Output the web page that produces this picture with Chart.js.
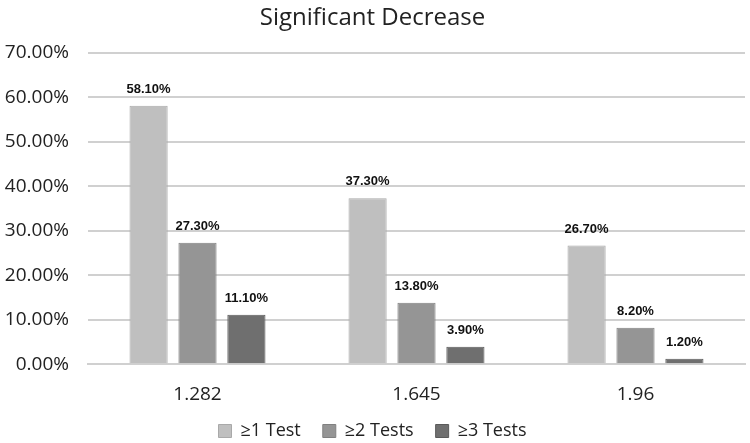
<!DOCTYPE html>
<html>
<head>
<meta charset="utf-8">
<script src="https://cdn.jsdelivr.net/npm/chart.js@4/dist/chart.umd.min.js"></script>
<style>
    body { margin: 0; background: #fff; }
    #wrap { width: 750px; height: 443px; }
</style>
</head>
<body>
<div id="wrap"><canvas id="chart"></canvas></div>
<script>
const categories = ["1.282", "1.645", "1.96"];
const seriesNames = ["\u22651 Test", "\u22652 Tests", "\u22653 Tests"];
const oneTest = [58.1, 37.3, 26.7];
const twoTests = [27.3, 13.8, 8.2];
const threeTests = [11.1, 3.9, 1.2];
const yTicks = [0, 10, 20, 30, 40, 50, 60, 70];

const fills = ["#bfbfbf", "#959595", "#6f6f6f"];
const borders = ["#a9a9a9", "#808080", "#5a5a5a"];

// labels above each bar, placed from the bar element itself
const barLabels = {
    id: "barLabels",
    afterDatasetsDraw(chart) {
        const ctx = chart.ctx;
        ctx.save();
        ctx.font = "bold 13px 'Liberation Sans', Arial, sans-serif";
        ctx.fillStyle = "#111";
        ctx.textAlign = "center";
        ctx.textBaseline = "bottom";
        chart.data.datasets.forEach((ds, i) => {
            chart.getDatasetMeta(i).data.forEach((bar, j) => {
                ctx.fillText(ds.data[j].toFixed(2) + "%", bar.x, bar.y - 10);
            });
        });
        ctx.restore();
    }
};

const seriesData = [oneTest, twoTests, threeTests];

new Chart(document.getElementById("chart"), {
    type: "bar",
    data: {
        labels: categories,
        datasets: seriesData.map((d, i) => ({
            label: seriesNames[i],
            data: d,
            backgroundColor: fills[i],
            borderColor: borders[i],
            borderWidth: 1,
            categoryPercentage: 0.67,
            barPercentage: 0.78
        }))
    },
    options: {
        responsive: true,
        maintainAspectRatio: false,
        animation: false,
        layout: { padding: { left: 0, right: 5, top: 0, bottom: -7 } },
        scales: {
            x: {
                grid: { display: false },
                border: { color: "#d0d0d0", width: 2 },
                afterFit(axis) {
                    axis.height -= 17;
                },
                ticks: {
                    color: "#222",
                    font: { family: "'Open Sans', sans-serif", size: 19 },
                    padding: 11
                }
            },
            y: {
                min: 0,
                max: 70,
                afterBuildTicks(axis) {
                    axis.ticks = yTicks.map(v => ({ value: v }));
                },
                afterFit(axis) {
                    axis.width = 88;
                },
                grid: { color: "#d0d0d0", lineWidth: 2, drawTicks: false },
                border: { display: false },
                ticks: {
                    color: "#222",
                    font: { family: "'Open Sans', sans-serif", size: 19 },
                    padding: 19,
                    callback: v => v.toFixed(2) + "%"
                }
            }
        },
        plugins: {
            title: {
                display: true,
                text: "Significant Decrease",
                color: "#222",
                font: { family: "'Open Sans', sans-serif", size: 24, weight: "normal" },
                padding: { top: 4, bottom: 20 }
            },
            legend: {
                position: "bottom",
                labels: {
                    color: "#222",
                    font: { family: "'Open Sans', sans-serif", size: 18 },
                    boxWidth: 13,
                    boxHeight: 13,
                    padding: 22
                }
            },
            tooltip: { enabled: false }
        }
    },
    plugins: [barLabels]
});
</script>
</body>
</html>
